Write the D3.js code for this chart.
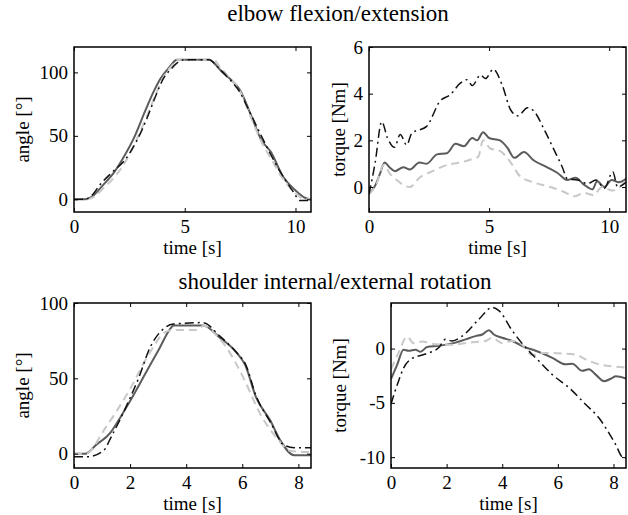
<!DOCTYPE html>
<html>
<head>
<meta charset="utf-8">
<script src="https://cdn.jsdelivr.net/npm/d3@7"></script>
<style>
  body { margin: 0; background: #fff; }
  text { font-family: "Liberation Serif", "Times New Roman", serif; fill: #000; }
</style>
</head>
<body>
<div class="graph"></div>
<script>
/*---------- DATA ----------*/

//elbow flexion/extension: angle [deg] vs time [s]
const elbowAngleSolid = [[0,0],[0.5,0],[0.8,2],[1.3,11],[1.8,21],[2.2,32],[2.75,50],[3.2,69],[3.6,85],[3.9,95],[4.3,104],[4.65,110],[5.5,110],[6.1,110],[6.4,106],[6.7,100],[7.1,94],[7.5,86],[8.0,66],[8.45,47],[8.9,37],[9.4,19],[10.0,7],[10.45,1],[10.7,0]];
const elbowAngleDashed = [[0,0],[0.55,0],[0.9,2],[1.4,10],[1.9,19],[2.3,29],[2.8,46],[3.3,66],[3.7,83],[4.0,95],[4.4,105],[4.7,110],[6.3,110],[6.6,104],[7.0,96],[7.5,85],[8.0,64],[8.5,44],[8.9,32],[9.4,17],[10.0,5],[10.4,0],[10.7,0]];
const elbowAngleDashDot = [[0,0],[0.5,0],[0.8,3],[1.2,12],[1.7,21],[2.3,31],[2.8,45],[3.3,64],[3.7,82],[4.0,94],[4.4,103],[4.7,108],[5.0,110],[6.1,110],[6.5,104],[7.0,95],[7.5,84],[7.9,70],[8.4,52],[8.8,38],[9.3,22],[9.9,6],[10.2,-1],[10.5,-1],[10.7,0]];

//elbow flexion/extension: torque [Nm] vs time [s]
const elbowTorqueSolid = [[0,-0.3],[0.25,0.05],[0.45,0.55],[0.65,1.05],[0.85,0.85],[1.08,0.68],[1.43,0.85],[1.7,0.75],[2.1,1.05],[2.4,1.0],[2.83,1.4],[3.25,1.45],[3.6,1.85],[3.95,1.75],[4.3,2.1],[4.5,2.0],[4.75,2.35],[5.0,2.1],[5.45,2.0],[5.75,1.7],[6.05,1.25],[6.45,1.5],[6.85,1.15],[7.4,0.85],[7.85,0.6],[8.25,0.3],[8.6,0.4],[8.95,0.1],[9.3,-0.1],[9.5,0.25],[9.8,0.0],[10.1,0.3],[10.4,0.2],[10.7,0.35]];
const elbowTorqueDashed = [[0,-0.3],[0.3,0.1],[0.62,0.95],[0.85,0.6],[1.15,0.3],[1.7,0.0],[2.1,0.4],[2.7,0.7],[3.25,0.95],[3.8,1.05],[4.3,1.2],[4.55,1.3],[4.75,2.0],[5.05,1.65],[5.45,1.55],[5.9,1.05],[6.3,0.45],[6.85,0.2],[7.55,0.0],[8.1,-0.2],[8.55,-0.4],[8.95,-0.25],[9.35,-0.35],[9.7,0.0],[10.15,-0.15],[10.7,0.3]];
const elbowTorqueDashDot = [[0,-0.3],[0.25,1.0],[0.53,2.8],[0.77,2.1],[1.06,1.7],[1.3,2.25],[1.57,1.8],[1.78,2.3],[2.4,2.6],[2.97,3.7],[3.38,3.95],[3.8,4.45],[4.08,4.6],[4.3,4.35],[4.64,4.8],[4.85,4.65],[5.17,5.05],[5.55,4.35],[5.9,3.3],[6.2,3.05],[6.6,3.4],[6.87,3.25],[7.3,2.45],[7.7,1.6],[8.05,0.85],[8.26,0.35],[8.68,0.3],[9.1,0.15],[9.45,0.3],[9.8,-0.05],[10.15,0.65],[10.35,0.0],[10.7,0.2]];

//shoulder internal/external rotation: angle [deg] vs time [s]
const shoulderAngleSolid = [[0,0],[0.4,0],[0.8,6],[1.3,14],[1.45,18],[2.0,35],[2.6,55],[3.05,70],[3.4,82],[3.55,85],[4.6,85],[5.2,77],[5.8,67],[6.1,59],[6.5,37],[7.0,22],[7.35,9],[7.85,-1],[8.45,-1]];
const shoulderAngleDashed = [[0,0],[0.4,0],[1.15,18],[2.0,43],[2.7,67],[3.2,80],[3.5,82],[4.4,82],[4.62,85],[5.0,80],[5.45,70],[6.05,50],[6.65,26],[7.25,10],[7.7,2],[8.45,1]];
const shoulderAngleDashDot = [[0,-2],[0.5,-2],[1.05,2],[1.35,12],[2.0,37],[2.3,50],[2.7,70],[3.2,83],[3.55,86],[4.6,87],[5.2,78],[5.8,67],[6.1,60],[6.5,38],[7.0,21],[7.47,6],[7.85,4],[8.45,4]];

//shoulder internal/external rotation: torque [Nm] vs time [s]
const shoulderTorqueSolid = [[0,-2.8],[0.22,-1.5],[0.45,-0.1],[0.63,-0.2],[0.88,-0.1],[1.06,-0.3],[1.3,0.15],[1.72,0.25],[2.32,0.55],[2.68,0.85],[3.04,1.15],[3.28,1.3],[3.52,1.7],[3.7,1.3],[4.0,1.0],[4.36,0.7],[4.84,0.1],[5.2,-0.2],[5.8,-0.85],[6.28,-1.45],[6.52,-1.4],[6.88,-2.05],[7.12,-1.9],[7.36,-2.4],[7.66,-3.0],[7.96,-2.7],[8.08,-2.55],[8.45,-2.75]];
const shoulderTorqueDashed = [[0,-1.9],[0.27,-0.4],[0.58,1.1],[0.81,0.5],[1.12,0.65],[1.6,0.4],[2.2,0.35],[2.8,0.55],[3.4,0.7],[3.64,1.0],[4.0,0.5],[4.36,0.7],[4.7,0.4],[5.08,-0.6],[5.44,-0.4],[6.16,-0.45],[6.64,-0.55],[7.0,-1.0],[7.48,-1.45],[7.84,-1.6],[8.45,-1.75]];
const shoulderTorqueDashDot = [[0,-5.1],[0.27,-3.0],[0.45,-1.8],[0.7,-1.0],[1.24,-0.5],[1.72,0.1],[1.96,0.85],[2.2,0.7],[2.56,1.15],[3.16,2.7],[3.64,3.8],[3.88,3.5],[4.36,1.65],[4.84,0.1],[5.32,-1.15],[5.8,-2.4],[6.4,-3.6],[7.0,-5.15],[7.48,-6.4],[7.72,-7.3],[8.08,-8.85],[8.32,-10.0],[8.45,-10.1]];

//tick values
const elbowTimeTicks = [0, 5, 10];
const shoulderTimeTicks = [0, 2, 4, 6, 8];
const elbowAngleTicks = [0, 50, 100];
const elbowTorqueTicks = [0, 2, 4, 6];
const shoulderAngleTicks = [0, 50, 100];
const shoulderTorqueTicks = [-10, -5, 0];

//titles
const titles = ["elbow flexion/extension", "shoulder internal/external rotation"];

/*---------- D3 STUFF ----------*/

const SIZE = {X: 628, Y: 515};
const FONT = 19;

//line styles for the three series
const STYLES = [
    {color: "#5c5c5c", width: 2, dash: null},
    {color: "#c8c8c8", width: 2, dash: "8,5"},
    {color: "#111", width: 1.5, dash: "9,4,2,4"}
];

const svg = d3.select(".graph").append("svg")
    .attr("width", SIZE.X)
    .attr("height", SIZE.Y);

//panel definitions
const panels = [
    {box: {x: 74, y: 47, w: 237, h: 165}, xDom: [0, 10.7], yDom: [-10, 120],
     xTicks: elbowTimeTicks, yTicks: elbowAngleTicks, yLabel: "angle [°]", yLabelX: 29,
     series: [elbowAngleSolid, elbowAngleDashed, elbowAngleDashDot]},
    {box: {x: 369, y: 47, w: 257, h: 165}, xDom: [0, 10.7], yDom: [-1.07, 6],
     xTicks: elbowTimeTicks, yTicks: elbowTorqueTicks, yLabel: "torque [Nm]", yLabelX: 345,
     series: [elbowTorqueSolid, elbowTorqueDashed, elbowTorqueDashDot]},
    {box: {x: 74, y: 303, w: 237, h: 165}, xDom: [0, 8.45], yDom: [-9.5, 100],
     xTicks: shoulderTimeTicks, yTicks: shoulderAngleTicks, yLabel: "angle [°]", yLabelX: 29,
     series: [shoulderAngleSolid, shoulderAngleDashed, shoulderAngleDashDot]},
    {box: {x: 391, y: 303, w: 235, h: 165}, xDom: [0, 8.45], yDom: [-11, 4.2],
     xTicks: shoulderTimeTicks, yTicks: shoulderTorqueTicks, yLabel: "torque [Nm]", yLabelX: 346,
     series: [shoulderTorqueSolid, shoulderTorqueDashed, shoulderTorqueDashDot]}
];

panels.forEach((p, i) => drawPanel(p, i));

//titles above each row
svg.append("text")
    .attr("x", 338).attr("y", 21)
    .attr("text-anchor", "middle")
    .style("font-size", "23px")
    .text(titles[0]);

svg.append("text")
    .attr("x", 335).attr("y", 289)
    .attr("text-anchor", "middle")
    .style("font-size", "23px")
    .text(titles[1]);

//draws one axes box with its three lines
function drawPanel(p, i) {
    const b = p.box;
    const g = svg.append("g")
        .attr("transform", `translate(${b.x}, ${b.y})`);

    const x = d3.scaleLinear().domain(p.xDom).range([0, b.w]);
    const y = d3.scaleLinear().domain(p.yDom).range([b.h, 0]);

    //clip lines to the box
    g.append("clipPath")
        .attr("id", "clip" + i)
        .append("rect")
        .attr("width", b.w)
        .attr("height", b.h);

    const line = d3.line()
        .x(d => x(d[0]))
        .y(d => y(d[1]))
        .curve(d3.curveMonotoneX);

    p.series.forEach((s, k) => {
        const st = STYLES[k];
        g.append("path")
            .attr("clip-path", `url(#clip${i})`)
            .attr("fill", "none")
            .attr("stroke", st.color)
            .attr("stroke-width", st.width)
            .attr("stroke-dasharray", st.dash)
            .attr("d", line(s));
    });

    //plain hyphen minus like the original, no decimals
    const fmt = d => String(d);

    //matlab style axes: inward ticks on all four sides
    g.append("g")
        .attr("transform", `translate(0, ${b.h})`)
        .call(d3.axisBottom(x).tickValues(p.xTicks).tickFormat(fmt).tickSize(-4).tickPadding(8).tickSizeOuter(0));
    g.append("g")
        .call(d3.axisTop(x).tickValues(p.xTicks).tickSize(-4).tickFormat("").tickSizeOuter(0));
    g.append("g")
        .call(d3.axisLeft(y).tickValues(p.yTicks).tickFormat(fmt).tickSize(-4).tickPadding(6).tickSizeOuter(0));
    g.append("g")
        .attr("transform", `translate(${b.w}, 0)`)
        .call(d3.axisRight(y).tickValues(p.yTicks).tickSize(-4).tickFormat("").tickSizeOuter(0));

    g.selectAll(".domain").remove();
    g.selectAll(".tick line").attr("stroke", "#000");
    g.selectAll(".tick text")
        .style("font-size", FONT + "px")
        .style("font-family", '"Liberation Serif", serif');

    //box frame
    g.append("rect")
        .attr("width", b.w)
        .attr("height", b.h)
        .attr("fill", "none")
        .attr("stroke", "#000")
        .attr("stroke-width", 1.5);

    //axis labels
    g.append("text")
        .attr("x", b.w / 2)
        .attr("y", b.h + 42)
        .attr("text-anchor", "middle")
        .style("font-size", FONT + "px")
        .text("time [s]");

    svg.append("text")
        .attr("transform", `translate(${p.yLabelX}, ${b.y + b.h / 2}) rotate(-90)`)
        .attr("text-anchor", "middle")
        .style("font-size", FONT + "px")
        .text(p.yLabel);
}
</script>
</body>
</html>
